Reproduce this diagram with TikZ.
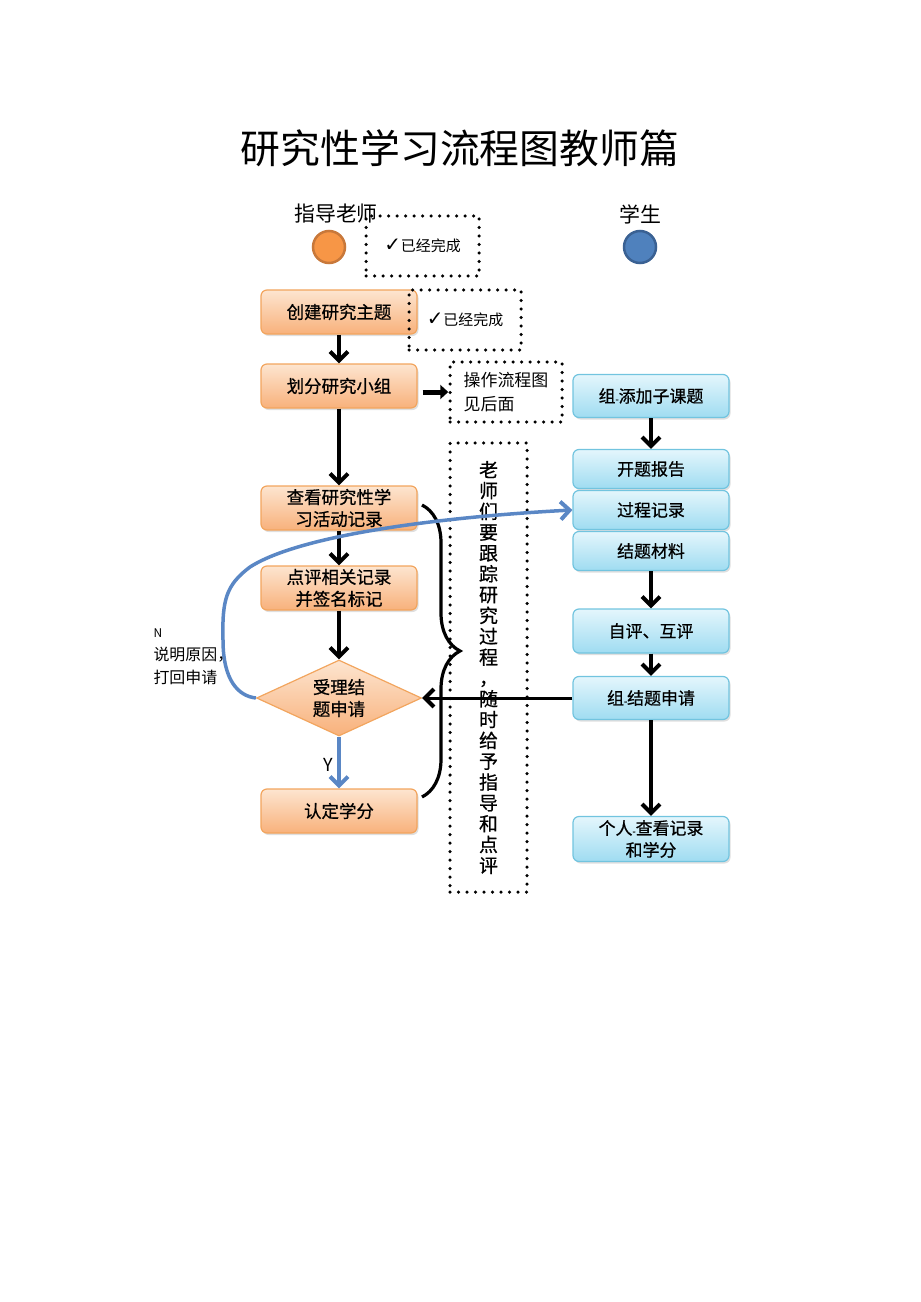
\documentclass[tikz,border=0pt]{standalone}
\usepackage{fontspec}
\setmainfont{Noto Sans CJK SC}
\newfontfamily\boxfont{Noto Sans CJK SC}[FakeBold=0.7]
\newfontfamily\symfont{DejaVu Sans}
\usetikzlibrary{arrows.meta,shapes.geometric,shadows,decorations.pathreplacing}
\definecolor{oratop}{HTML}{FDE5D0}
\definecolor{orabot}{HTML}{F8B17B}
\definecolor{oraline}{HTML}{F2A55E}
\definecolor{blutop}{HTML}{E4F6FC}
\definecolor{blubot}{HTML}{9FDCF1}
\definecolor{bluline}{HTML}{72C4DF}
\definecolor{curvecol}{HTML}{5A87C5}
\definecolor{tcircfill}{HTML}{F79646}
\definecolor{tcircline}{HTML}{C8783A}
\definecolor{scircfill}{HTML}{4F81BD}
\definecolor{scircline}{HTML}{3A6193}
\begin{document}
\begin{tikzpicture}[x=1bp,y=-1bp,>={Straight Barb[length=9bp,width=18bp,line width=4bp]},line join=miter,
  tbox/.style={draw=oraline,line width=1.2bp,rounded corners=6bp,top color=oratop,bottom color=orabot,
    minimum width=156bp,minimum height=44bp,inner sep=1bp,align=center,font=\boxfont\fontsize{17.5}{22}\selectfont,
    drop shadow={shadow xshift=1.5bp,shadow yshift=-2bp,opacity=0.25}},
  tdiam/.style={diamond,draw=oraline,line width=1.2bp,top color=oratop,bottom color=orabot,aspect=2.2,
    minimum width=165bp,minimum height=76bp,inner sep=0bp,align=center,font=\boxfont\fontsize{17.5}{22}\selectfont},
  sbox/.style={draw=bluline,line width=1.2bp,rounded corners=6bp,top color=blutop,bottom color=blubot,
    minimum width=156bp,inner sep=1bp,align=center,font=\boxfont\fontsize{17}{22}\selectfont,
    drop shadow={shadow xshift=1.5bp,shadow yshift=-2bp,opacity=0.25}},
  dotbox/.style={draw,line width=3.5bp,line cap=round,dash pattern=on 0bp off 8.5bp},
  barr/.style={->,line width=3.8bp},
  carr/.style={->,line width=3.5bp,draw=curvecol}]
\useasboundingbox (0,0) rectangle (920,1302);
\newcommand\sepdot{{\fontsize{9}{9}\selectfont -}}
%%
  % Node: Title
  \node (title) at (460,148) {\fontsize{40}{44}\selectfont 研究性学习流程图教师篇};
  % Node: Teacher, Student
  \node (tlabel) at (336,214) {\fontsize{21}{24}\selectfont 指导老师};
  \node (slabel) at (640,214) {\fontsize{21}{24}\selectfont 学生};
  \node[circle,draw=tcircline,line width=2.5bp,fill=tcircfill,minimum size=32bp] (tcirc) at (329,247) {};
  \node[circle,draw=scircline,line width=2.5bp,fill=scircfill,minimum size=32bp] (scirc) at (640,247) {};
  % Node: teacher column
  \node[tbox] (create) at (339,312) {创建研究主题};
  \node[tbox] (divide) at (339,386) {划分研究小组};
  \node[tbox] (viewrec) at (339,508) {查看研究性学\\习活动记录};
  \node[tbox] (comment) at (339,588) {点评相关记录\\并签名标记};
  \node[tdiam] (accept) at (339,698) {受理结\\题申请};
  \node[tbox] (credit) at (339,811) {认定学分};
  % Node: student column
  \node[sbox,minimum height=43bp] (sadd) at (651,396) {组\sepdot 添加子课题};
  \node[sbox,minimum height=39bp] (sopen) at (651,469) {开题报告};
  \node[sbox,minimum height=39bp] (sproc) at (651,510) {过程记录};
  \node[sbox,minimum height=39bp] (smat) at (651,551) {结题材料};
  \node[sbox,minimum height=44bp] (seval) at (651,631) {自评、互评};
  \node[sbox,minimum height=43bp] (sapply) at (651,698) {组\sepdot 结题申请};
  \node[sbox,minimum height=45bp] (sview) at (651,839) {个人\sepdot 查看记录\\和学分};
  % Node: dotted notes
  \node[dotbox,minimum width=113bp,minimum height=60bp] (done1) at (422.5,246) {};
  \node[font=\fontsize{15}{16}\selectfont] at (done1) {{\symfont\fontsize{20}{20}\selectfont ✓}已经完成};
  \node[dotbox,minimum width=112bp,minimum height=60bp] (done2) at (465,320) {};
  \node[font=\fontsize{15}{16}\selectfont] at (done2) {{\symfont\fontsize{20}{20}\selectfont ✓}已经完成};
  \node[dotbox,minimum width=112bp,minimum height=60bp,align=left,font=\fontsize{17}{24}\selectfont] (seeflow) at (506,392) {操作流程图\\见后面};
  \node[dotbox,minimum width=77bp,minimum height=449bp] (track) at (488.5,667.5) {};
  \node[align=center,font=\boxfont\fontsize{19}{20.9}\selectfont] at (track) {老\\师\\们\\要\\跟\\踪\\研\\究\\过\\程\\，\\随\\时\\给\\予\\指\\导\\和\\点\\评};
  % Edge: teacher column
  \draw [barr] (create) -- (divide);
  \draw [barr] (divide) -- (viewrec);
  \draw [barr] (viewrec) -- (comment);
  \draw [barr] (comment) -- (accept);
  \draw [carr] (accept) -- node[pos=0.55,left=1bp,text=black,font=\fontsize{18}{20}\selectfont] {Y} (credit);
  \draw [-{Triangle[length=8bp,width=14bp]},line width=5bp] (divide.east) ++(5,6) coordinate (dv) -- (dv -| seeflow.west);
  % Edge: student column
  \draw [barr] (sadd) -- (sopen);
  \draw [barr] (smat) -- (seval);
  \draw [barr] (seval) -- (sapply);
  \draw [barr] (sapply) -- (sview);
  \draw [->,line width=3bp] (sapply) -- (accept);
  % Edge: brace
  \coordinate (brtop) at (422,505);
  \coordinate (brbot) at (422,797);
  \draw [line width=3.2bp,decorate,decoration={brace,amplitude=38bp}] (brtop) -- (brbot);
  % Edge: Accept -> Process (N)
  \draw [carr] (accept.west) .. controls (238,696) and (223,680) .. (223,640)
    .. controls (222,600) and (226,585) .. (250,567)
    .. controls (300,535) and (440,517) .. (sproc.west);
  \node[align=left,anchor=west,font=\fontsize{16}{23}\selectfont] (nlabel) at (150,657) {{\fontsize{12}{12}\selectfont N}\\说明原因，\\打回申请};
%
\end{tikzpicture}
\end{document}
